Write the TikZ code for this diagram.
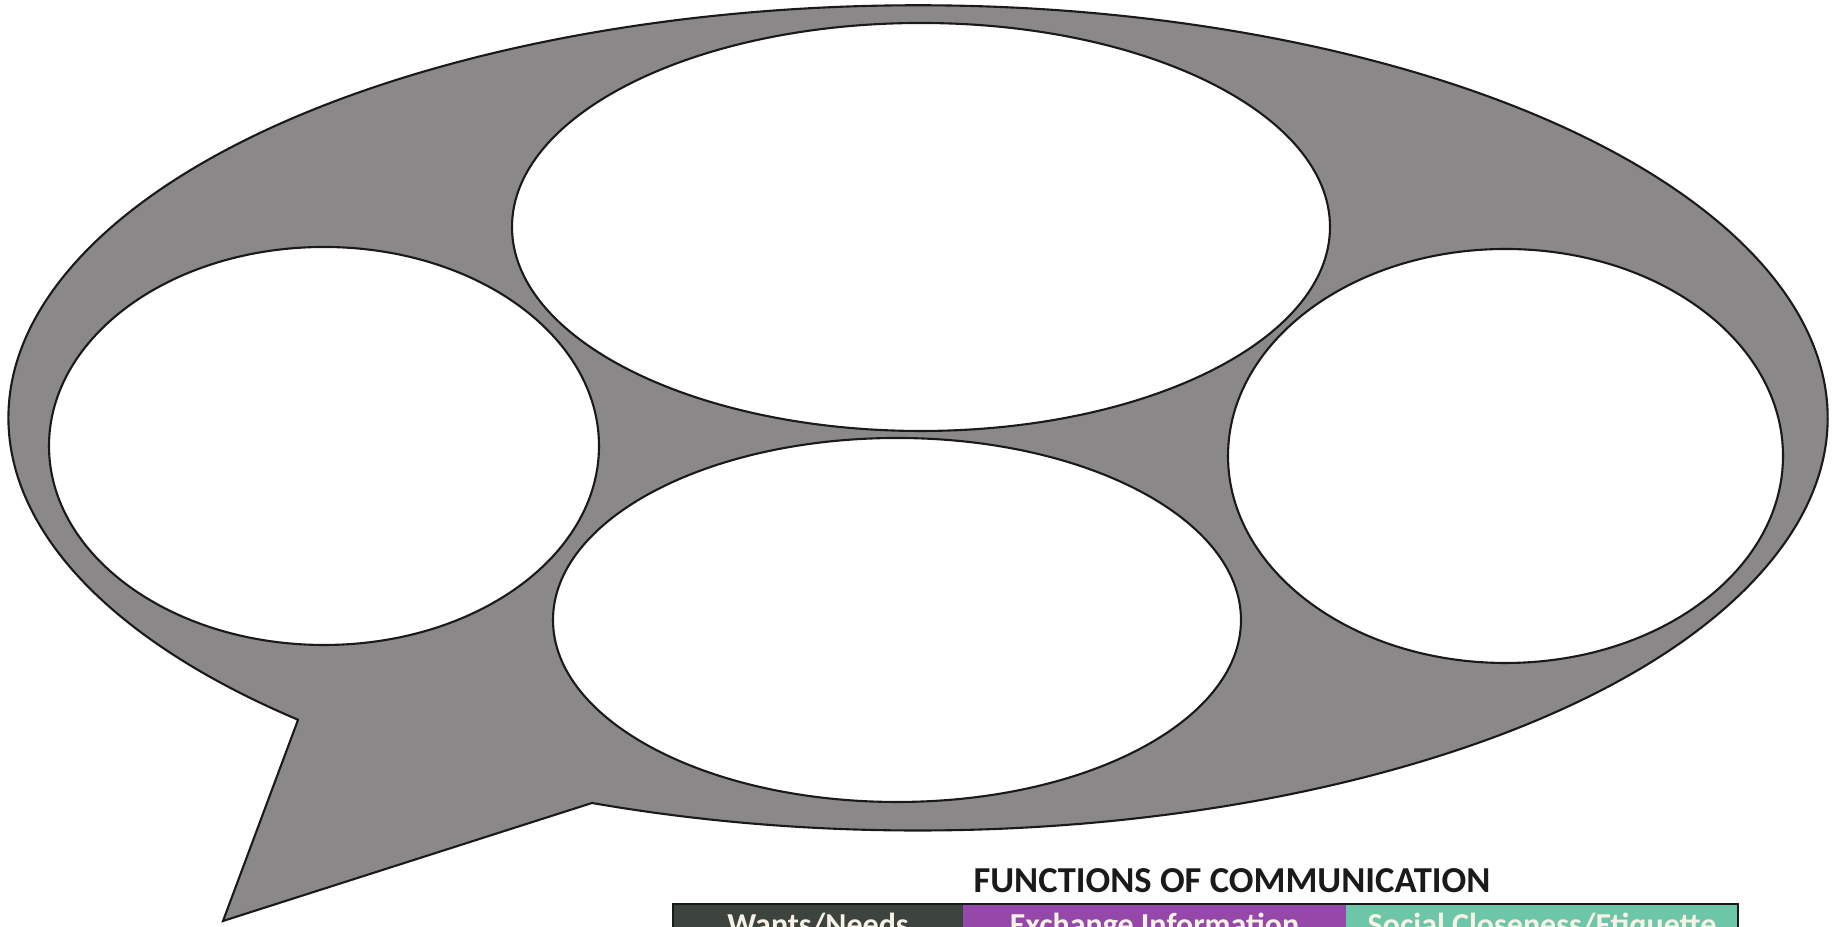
\documentclass[tikz,border=0pt]{standalone}
\usepackage{fontspec}
\setmainfont{Carlito}
\usepackage{xcolor}
\definecolor{cBubble}{HTML}{8A8889}
\definecolor{cLine}{HTML}{1A1A1A}
\definecolor{cWants}{HTML}{3C443D}
\definecolor{cInfo}{HTML}{9648AA}
\definecolor{cSocial}{HTML}{6EC6A8}
\definecolor{cCellText}{HTML}{F6F2E8}
\usepackage{tikz}
\usetikzlibrary{positioning,shapes.geometric}
\tikzset{
  bubble-shape/.style={draw=cLine,line width=0.6pt,fill=cBubble},
  node-oval/.style={draw=cLine,line width=0.6pt,fill=white,ellipse,
    inner sep=0pt,outer sep=0pt},
  % 表格单元：只露出上半部分，文字基线落在图外
  node-cell/.style={rectangle,outer sep=0pt,inner xsep=0pt,inner ysep=1mm,
    text height=2.2mm,text depth=5mm,text=cCellText,
    font=\bfseries\fontsize{9.1}{11}\selectfont},
  node-title/.style={anchor=base,text=cLine,inner sep=0pt,
    font=\bfseries\fontsize{10.4}{12}\selectfont},
  table-frame/.style={draw=cLine,line width=0.6pt},
}

\begin{document}
\begin{tikzpicture}[x=0.1mm,y=0.1mm]
  \useasboundingbox (0,0) rectangle (1837,927);
  \clip (0,0) rectangle (1837,927);

  \coordinate (tailL) at (298,207);
  \coordinate (tip)   at (223,6);
  \coordinate (tailR) at (592,124);
  \filldraw[bubble-shape] (tailL) -- (tip) -- (tailR)
    arc[start angle=249,end angle=587,x radius=909.5,y radius=412.5] -- cycle;

  \node[node-oval,minimum width=81.8mm,minimum height=40.8mm] (ovalTop)    at (921,700) {};
  \node[node-oval,minimum width=55mm,minimum height=39.8mm]   (ovalLeft)   at (324,481) {};
  \node[node-oval,minimum width=55.5mm,minimum height=41.4mm] (ovalRight)  at (1505.5,471) {};
  \node[node-oval,minimum width=68.8mm,minimum height=36.4mm] (ovalBottom) at (897,307) {};

  \node[node-title] (title) at (1232,34) {FUNCTIONS OF COMMUNICATION};

  \node[node-cell,fill=cWants,minimum width=29mm,anchor=north west] (cellWants) at (673,23) {Wants/Needs};
  \node[node-cell,fill=cInfo,minimum width=38.3mm,right=0pt of cellWants] (cellInfo) {Exchange Information};
  \node[node-cell,fill=cSocial,minimum width=39.2mm,right=0pt of cellInfo] (cellSocial) {Social Closeness/Etiquette};
  \draw[table-frame] (cellWants.north west) rectangle (cellSocial.south east);
\end{tikzpicture}
\end{document}
